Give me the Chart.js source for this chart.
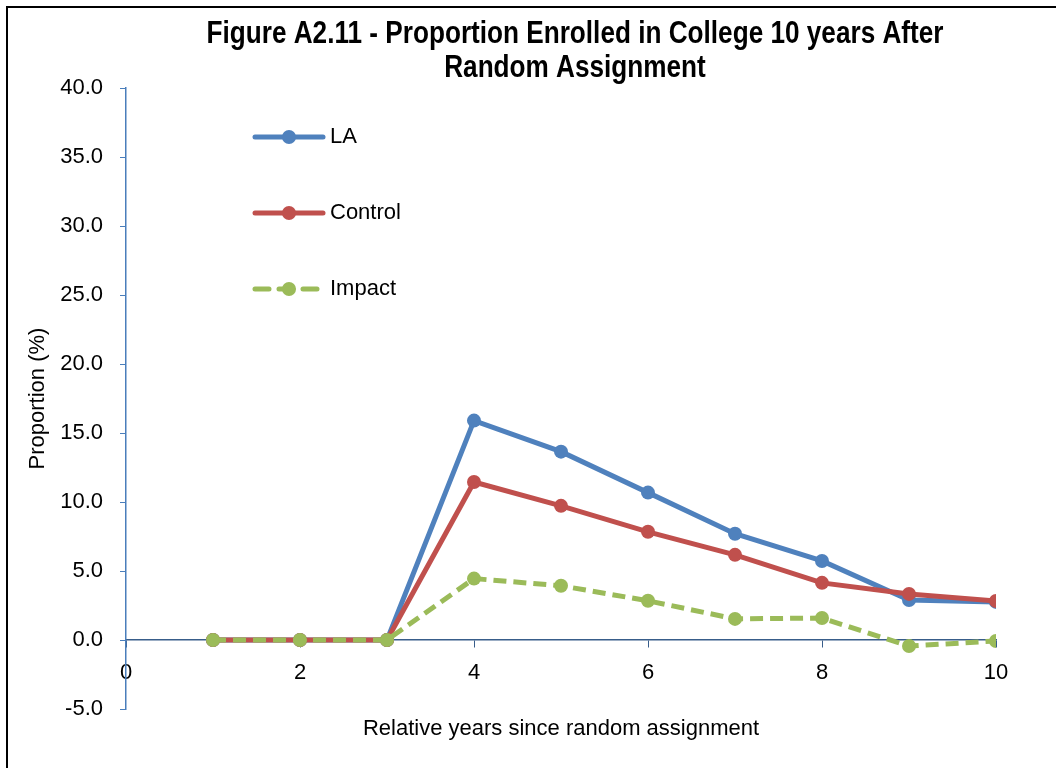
<!DOCTYPE html>
<html>
<head>
<meta charset="utf-8">
<script src="https://cdn.jsdelivr.net/npm/chart.js@4.4.1/dist/chart.umd.min.js"></script>
<style>
  html, body { margin: 0; padding: 0; background: #fff; overflow: hidden; width: 1056px; height: 768px; }
  #frame { position: absolute; left: 6px; top: 6px; width: 1200px; height: 900px; border-left: 2px solid #000; border-top: 2px solid #000; }
  #c { position: absolute; left: 8px; top: 8px; }
</style>
</head>
<body>
<div id="frame"></div>
<canvas id="c" width="1134" height="810"></canvas>
<script>
// ---- data ----
const years = [1, 2, 3, 4, 5, 6, 7, 8, 9, 10];
const laValues = [0, 0, 0, 15.9, 13.65, 10.68, 7.7, 5.73, 2.9, 2.76];
const controlValues = [0, 0, 0, 11.45, 9.72, 7.84, 6.17, 4.14, 3.34, 2.83];
const impactValues = [0, 0, 0, 4.45, 3.93, 2.84, 1.53, 1.59, -0.44, -0.07];
const seriesNames = ['LA', 'Control', 'Impact'];
const titleLines = ['Figure A2.11 - Proportion Enrolled in College 10 years After', 'Random Assignment'];
const xTitle = 'Relative years since random assignment';
const yTitle = 'Proportion (%)';

const BLUE = '#4f81bd', RED = '#c0504d', GREEN = '#9bbb59';
const FONT = '"Liberation Sans", Arial, sans-serif';

function pts(vals) { return years.map((x, i) => ({ x: x, y: vals[i] })); }

// Condensed bold title (Arial Narrow look) drawn in the reserved top band
const titlePlugin = {
  id: 'narrowTitle',
  afterDraw(chart) {
    const ctx = chart.ctx;
    const cx = chart.width / 2;
    ctx.save();
    ctx.font = 'bold 31px ' + FONT;
    const w = ctx.measureText(titleLines[0]).width;
    const sx = 737 / w;
    ctx.fillStyle = '#000';
    ctx.textAlign = 'center';
    ctx.textBaseline = 'alphabetic';
    const baselines = [35, 69];
    titleLines.forEach((t, i) => {
      ctx.save();
      ctx.translate(cx, baselines[i]);
      ctx.scale(sx, 1);
      ctx.fillText(t, 0, 0);
      ctx.restore();
    });
    ctx.restore();
  }
};

const legendPlugin = {
  id: 'insideLegend',
  afterDraw(chart) {
    const ctx = chart.ctx;
    const ca = chart.chartArea;
    const x0 = ca.left + 127, x1 = ca.left + 199, xm = (x0 + x1) / 2;
    const ys = [ca.top + 49, ca.top + 125, ca.top + 201];
    chart.data.datasets.forEach((ds, i) => {
      const y = ys[i];
      ctx.save();
      ctx.strokeStyle = ds.borderColor;
      ctx.lineWidth = ds.borderWidth;
      ctx.lineCap = 'round';
      ctx.beginPath();
      if (ds.borderDash && ds.borderDash.length) {
        ctx.setLineDash([14, 10]);
        ctx.moveTo(x0 + 2, y); ctx.lineTo(x1 - 4, y);
      } else {
        ctx.moveTo(x0 + 2, y); ctx.lineTo(x1 - 2, y);
      }
      ctx.stroke();
      ctx.setLineDash([]);
      ctx.fillStyle = ds.pointBackgroundColor;
      ctx.beginPath();
      ctx.arc(xm, y, ds.pointRadius, 0, Math.PI * 2);
      ctx.fill();
      ctx.fillStyle = '#000';
      ctx.font = '22px ' + FONT;
      ctx.textBaseline = 'middle';
      ctx.textAlign = 'left';
      ctx.fillText(ds.label, x1 + 5, y);
      ctx.restore();
    });
  }
};

new Chart(document.getElementById('c'), {
  type: 'line',
  data: {
    datasets: [
      { label: seriesNames[0], data: pts(laValues), borderColor: BLUE, backgroundColor: BLUE,
        pointBackgroundColor: BLUE, pointBorderWidth: 0, pointRadius: 7, borderWidth: 5, order: 3 },
      { label: seriesNames[1], data: pts(controlValues), borderColor: RED, backgroundColor: RED,
        pointBackgroundColor: RED, pointBorderWidth: 0, pointRadius: 7, borderWidth: 5, order: 2 },
      { label: seriesNames[2], data: pts(impactValues), borderColor: GREEN, backgroundColor: GREEN,
        pointBackgroundColor: GREEN, pointBorderWidth: 0, pointRadius: 7, borderWidth: 5,
        borderDash: [13, 7], order: 1 }
    ]
  },
  options: {
    responsive: false,
    devicePixelRatio: 1,
    animation: false,
    layout: { padding: { left: 17, right: 146, top: 80, bottom: 109 } },
    elements: { line: { tension: 0, borderCapStyle: 'butt' } },
    plugins: {
      legend: { display: false },
      tooltip: { enabled: false },
      title: { display: false }
    },
    scales: {
      x: {
        type: 'linear',
        position: { y: 0 },
        min: 0, max: 10,
        ticks: { stepSize: 2, color: '#000', font: { family: FONT, size: 22 }, padding: 13, maxRotation: 0 },
        grid: { drawOnChartArea: false, drawTicks: true, tickLength: 7, color: '#385d8a' },
        border: { display: true, color: '#385d8a', width: 1.5 },
        title: { display: true, text: xTitle, color: '#000', font: { family: FONT, size: 22 }, padding: { top: 16, bottom: 4 } }
      },
      y: {
        type: 'linear',
        position: 'left',
        min: -5, max: 40,
        afterFit(scale) { scale.width = 101; },
        ticks: { stepSize: 5, color: '#000', font: { family: FONT, size: 22 }, padding: 17,
                 callback: v => Number(v).toFixed(1) },
        grid: { drawOnChartArea: false, drawTicks: true, tickLength: 6, color: '#4a7ebb' },
        border: { display: true, color: '#4a7ebb', width: 1.5 },
        title: { display: true, text: yTitle, color: '#000', font: { family: FONT, size: 22 }, padding: { top: 0, bottom: 0 } }
      }
    }
  },
  plugins: [titlePlugin, legendPlugin]
});
</script>
</body>
</html>
